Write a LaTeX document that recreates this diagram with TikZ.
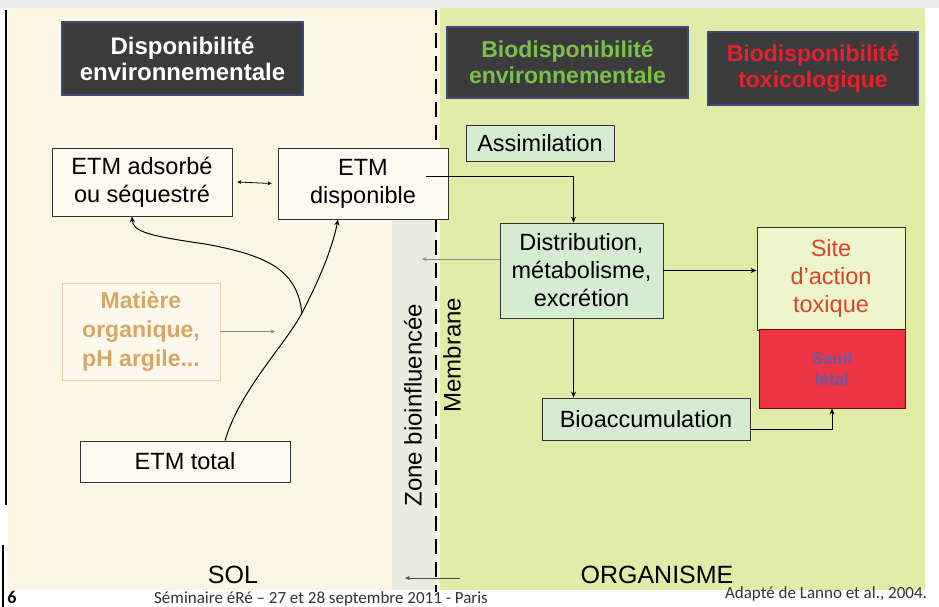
\documentclass[tikz,border=0pt]{standalone}
\usepackage{fontspec}
\setmainfont{Liberation Sans}
\newfontfamily\footfont{Carlito}
\usetikzlibrary{arrows.meta,calc}
\definecolor{cream}{HTML}{FBF6E4}
\definecolor{greenbg}{HTML}{E2ECA9}
\definecolor{zonegray}{HTML}{EBECE0}
\definecolor{titlefill}{HTML}{3B3B3B}
\definecolor{titleborder}{HTML}{3E4A7A}
\definecolor{mint}{HTML}{D6ECD2}
\definecolor{tanc}{HTML}{D6A766}
\definecolor{sitered}{HTML}{D8452B}
\definecolor{redbox}{HTML}{EC3444}
\definecolor{titlegreen}{HTML}{7CC049}
\definecolor{titlered}{HTML}{E8202E}
\definecolor{lesetxt}{HTML}{6A5AA0}
\tikzset{
  box/.style={draw=black!80, line width=0.8pt, align=center, inner sep=0pt,
    font=\fontsize{23.5}{28}\selectfont},
  titlebox/.style={draw=titleborder, line width=1.5pt, fill=titlefill, align=center,
    inner sep=0pt, font=\fontsize{23}{26}\selectfont\bfseries},
  arr/.style={-{Stealth[length=6pt,width=5pt]}, line width=1pt},
  garr/.style={-{Stealth[length=5pt,width=4pt]}, line width=0.9pt, draw=black!45},
  lbl/.style={inner sep=0pt, font=\fontsize{24}{28}\selectfont}
}
\begin{document}
\begin{tikzpicture}[x=1pt,y=-1pt]
\useasboundingbox (0,0) rectangle (939,607);
% backgrounds
\fill[white] (0,0) rectangle (939,607);
\fill[black!8] (0,0) rectangle (939,8);
\fill[cream] (8,8) rectangle (440,590);
\fill[greenbg] (440,8) rectangle (925,590);
\fill[zonegray] (392,200) rectangle (436,590);
\draw[line width=1.5pt] (6,10) -- (6,505);
\draw[line width=1.5pt] (3,545) -- (3,607);
% dashed membrane line
\draw[line width=2.5pt, dash pattern=on 15pt off 8pt] (436,10) -- (436,592);
% titles
\node[titlebox, text=white, minimum width=241pt, minimum height=73pt, font=\fontsize{24}{26}\selectfont\bfseries] (t1) at (182.5,58.5) {Disponibilité\\environnementale};
\node[titlebox, text=titlegreen, minimum width=241pt, minimum height=71pt] (t2) at (567.5,62.5) {Biodisponibilité\\environnementale};
\node[titlebox, text=titlered, minimum width=210pt, minimum height=73pt] (t3) at (813,68.5) {Biodisponibilité\\toxicologique};
% boxes
\node[box, fill=cream!60!white, minimum width=180pt, minimum height=68pt] (ads) at (142,182) {ETM adsorbé\\ou séquestré};
\node[box, fill=cream!60!white, minimum width=170pt, minimum height=71pt] (dispo) at (363,183.5) {ETM\\disponible};
\node[box, fill=mint, minimum width=148pt, minimum height=36pt] (assim) at (540,143) {Assimilation};
\node[box, fill=mint, minimum width=163pt, minimum height=95pt] (distr) at (581.5,270.5) {Distribution,\\métabolisme,\\excrétion};
\node[box, fill=greenbg!60!white, text=sitered, minimum width=148pt, minimum height=103pt] (site) at (831,278.5) {Site\\d'action\\toxique};
\node[box, fill=redbox, draw=red!50!black, text=lesetxt, minimum width=146pt, minimum height=79pt, font=\fontsize{17}{21}\selectfont\bfseries] (lese) at (832,368.5) {Seuil\\létal};
\node[box, fill=mint, minimum width=208pt, minimum height=42pt] (bioacc) at (646,419) {Bioaccumulation};
\node[box, draw=tanc!50, fill=cream!70!white, text=tanc, minimum width=158pt, minimum height=97pt, font=\fontsize{23}{29}\selectfont\bfseries] (mat) at (141,331.5) {Matière\\organique,\\pH argile...};
\node[box, fill=cream!60!white, minimum width=210pt, minimum height=41pt] (total) at (185,461.5) {ETM total};
% labels
\node[lbl, rotate=90] (memb) at (452,355) {Membrane};
\node[lbl, rotate=90] (zone) at (413,405) {Zone bioinfluencée};
\node[lbl, font=\fontsize{25}{28}\selectfont] (sol) at (233,575) {SOL};
\node[lbl, font=\fontsize{25}{28}\selectfont] (org) at (657,575) {ORGANISME};
\node[inner sep=0pt, font=\footfont\fontsize{18}{20}\selectfont\bfseries] (num) at (12,597) {6};
\node[inner sep=0pt, font=\footfont\fontsize{17}{20}\selectfont, text=black!80] (sem) at (321,598.5) {Séminaire éRé – 27 et 28 septembre 2011 - Paris};
\node[inner sep=0pt, font=\footfont\fontsize{17}{20}\selectfont, text=black!80] (src) at (826,594) {Adapté de Lanno et al., 2004.};
% connectors
\draw[{Stealth[length=4pt,width=4pt]}-{Stealth[length=4pt,width=4pt]}, line width=0.8pt] ([xshift=5pt]ads.east) -- ([xshift=-6pt]dispo.west);
\coordinate (split) at (302,313);
\draw[arr] ([xshift=40pt]total.north) .. controls (240,390) and (285,345) .. (split)
  .. controls (318,282) and (332,250) .. ([xshift=-25pt]dispo.south);
\draw[arr] (split) .. controls (297,272) and (272,256) .. (205,244)
  .. controls (150,236) and (133,232) .. ([xshift=-10pt]ads.south);
\draw[garr] (mat.east) -- ++(55,0);
\draw[arr] ([xshift=-22pt,yshift=7.5pt]dispo.east) -| ([xshift=-8pt]distr.north);
\draw[arr] (distr.east) -- (distr.east -| site.west);
\draw[arr] ([xshift=-8pt]distr.south) -- ([xshift=-8pt]distr.south |- bioacc.north);
\draw[arr] ([yshift=-10pt]bioacc.east) -| (lese.south);
\draw[garr] ([yshift=11.5pt]distr.west) -- ++(-78,0);
\coordinate (bstart) at (460,578);
\draw[garr, draw=black!70] (bstart) -- ++(-55,0);
\end{tikzpicture}
\end{document}
